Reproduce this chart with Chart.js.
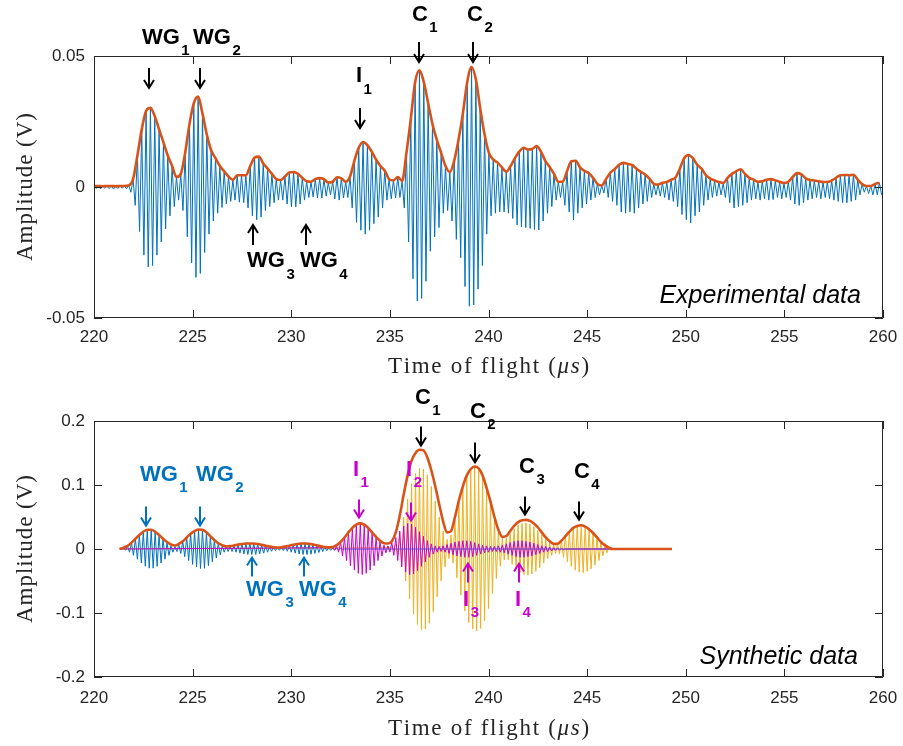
<!DOCTYPE html>
<html><head><meta charset="utf-8">
<script src="https://cdn.jsdelivr.net/npm/chart.js@4"></script>
<style>
html,body{margin:0;padding:0;background:#fff;}
#wrap{position:relative;width:903px;height:746px;overflow:hidden;}
#c1{position:absolute;left:0;top:0;}
#c2{position:absolute;left:0;top:380px;}
</style></head><body>
<div id="wrap"><canvas id="c1" width="903" height="380"></canvas><canvas id="c2" width="903" height="366"></canvas></div>
<script>
// ---------------- DATA ----------------
const xTicks = [220, 225, 230, 235, 240, 245, 250, 255, 260];
const expYTicks = [-0.05, 0, 0.05];
const synYTicks = [-0.2, -0.1, 0, 0.1, 0.2];

// Experimental: one carrier cycle every 0.22 us from 220 us
const expStart = 220, expStep = 0.22;
// positive peak / envelope value at each cycle
const expEnvelope = [
0.0004,0.0004,0.0003,0.0004,0.0004,0.0003,0.0004,0.0004,0.0006,0.003,
0.012,0.022,0.029,0.0302,0.027,0.022,0.017,0.012,0.008,0.0038,
0.005,0.013,0.024,0.032,0.0345,0.028,0.020,0.014,0.011,0.008,
0.006,0.004,0.0027,0.0045,0.0045,0.0045,0.008,0.0112,0.0116,0.009,
0.007,0.005,0.003,0.0027,0.004,0.0055,0.0057,0.005,0.0035,0.0022,
0.002,0.003,0.0034,0.003,0.0017,0.002,0.0037,0.0033,0.002,0.004,
0.010,0.015,0.0172,0.016,0.0135,0.0105,0.008,0.0062,0.003,0.0025,
0.0038,0.0023,0.013,0.026,0.040,0.0445,0.040,0.032,0.024,0.018,
0.013,0.008,0.0057,0.010,0.018,0.028,0.040,0.0458,0.041,0.030,
0.020,0.013,0.0105,0.0093,0.0075,0.0058,0.008,0.011,0.0135,0.015,
0.0143,0.0145,0.0156,0.0135,0.010,0.0076,0.005,0.002,0.002,0.006,
0.0098,0.010,0.0075,0.0062,0.0053,0.0035,0.0012,0.0006,0.003,0.0055,
0.0068,0.0085,0.0092,0.0088,0.0084,0.007,0.0058,0.0048,0.0032,0.0012,
0.0009,0.0016,0.0019,0.0028,0.0036,0.007,0.011,0.0122,0.011,0.0085,
0.007,0.0045,0.0032,0.0025,0.0019,0.0015,0.0035,0.005,0.006,0.0068,
0.005,0.0035,0.0028,0.002,0.0022,0.0028,0.003,0.0025,0.002,0.0015,
0.002,0.0038,0.0053,0.0048,0.0033,0.0027,0.0025,0.0022,0.0019,0.0019,
0.0025,0.0035,0.0045,0.0046,0.0045,0.0047,0.0028,0.0011,0.0004,0.0004,
0.0012,0.0016];
// negative trough half a cycle later
const expTrough = [
-0.0006,-0.0007,-0.0005,-0.0006,-0.0008,-0.0006,-0.0005,-0.0007,-0.002,-0.007,
-0.017,-0.026,-0.0305,-0.030,-0.026,-0.021,-0.016,-0.011,-0.0075,-0.005,
-0.009,-0.019,-0.029,-0.0345,-0.033,-0.025,-0.018,-0.013,-0.010,-0.0078,
-0.0065,-0.0055,-0.005,-0.0058,-0.006,-0.008,-0.011,-0.0125,-0.0115,-0.009,
-0.0075,-0.006,-0.005,-0.005,-0.0065,-0.0075,-0.0076,-0.0065,-0.005,-0.004,
-0.0038,-0.0042,-0.0042,-0.0035,-0.003,-0.0045,-0.005,-0.0042,-0.004,-0.008,
-0.0135,-0.0165,-0.018,-0.0165,-0.014,-0.0115,-0.008,-0.005,-0.0045,-0.0042,
-0.004,-0.008,-0.021,-0.035,-0.0435,-0.0425,-0.036,-0.0245,-0.019,-0.0155,
-0.010,-0.009,-0.013,-0.020,-0.027,-0.038,-0.0455,-0.045,-0.039,-0.030,
-0.018,-0.011,-0.010,-0.0095,-0.0095,-0.010,-0.012,-0.0145,-0.0153,-0.0155,
-0.0158,-0.0162,-0.0164,-0.013,-0.010,-0.0075,-0.005,-0.004,-0.007,-0.0095,
-0.0126,-0.010,-0.008,-0.0065,-0.005,-0.004,-0.003,-0.0023,-0.004,-0.0055,
-0.007,-0.0095,-0.010,-0.0095,-0.010,-0.008,-0.0065,-0.0055,-0.004,-0.003,
-0.0035,-0.004,-0.005,-0.0055,-0.0075,-0.0105,-0.0125,-0.0137,-0.011,-0.0095,
-0.007,-0.005,-0.004,-0.0035,-0.003,-0.004,-0.006,-0.008,-0.0075,-0.007,
-0.006,-0.005,-0.0045,-0.005,-0.0045,-0.005,-0.0048,-0.004,-0.0045,-0.004,
-0.005,-0.0065,-0.007,-0.006,-0.005,-0.0045,-0.004,-0.0045,-0.004,-0.0045,
-0.005,-0.0055,-0.006,-0.006,-0.0055,-0.005,-0.003,-0.002,-0.0025,-0.003,
-0.003,-0.003];

// Synthetic: one carrier cycle every 0.2 us
const synStart = 221.3, synStep = 0.2, synEnd = 249.3;
const synEnvelope = [
0,0.002,0.005,0.010,0.016,0.022,0.027,0.030,0.030,0.027,
0.022,0.016,0.011,0.007,0.0055,0.008,0.012,0.018,0.024,0.028,
0.0305,0.030,0.026,0.020,0.014,0.009,0.006,0.004,0.0045,0.0055,
0.0068,0.0078,0.0085,0.0086,0.0085,0.0078,0.0066,0.0052,0.0038,0.0028,
0.0022,0.0027,0.0037,0.0052,0.0066,0.0078,0.0085,0.0086,0.0082,0.0071,
0.0057,0.0042,0.003,0.0025,0.003,0.006,0.011,0.018,0.026,0.033,
0.038,0.040,0.038,0.033,0.026,0.019,0.013,0.009,0.0085,0.012,
0.026,0.052,0.085,0.115,0.138,0.150,0.155,0.154,0.143,0.123,
0.098,0.070,0.043,0.026,0.028,0.050,0.076,0.098,0.115,0.125,
0.129,0.126,0.115,0.096,0.074,0.050,0.030,0.019,0.020,0.028,
0.036,0.042,0.045,0.0455,0.044,0.040,0.034,0.026,0.018,0.012,
0.008,0.008,0.013,0.020,0.027,0.033,0.036,0.037,0.035,0.031,
0.025,0.018,0.011,0.006,0.002,0,0,0,0,0,
0,0,0,0,0,0,0,0,0,0,
0];
// WG (wave guide) component amplitude per cycle
const wgStart = 221.3;
const wgAmp = [
0,0.002,0.005,0.010,0.016,0.022,0.027,0.030,0.030,0.027,
0.022,0.016,0.010,0.005,0.004,0.007,0.012,0.018,0.024,0.028,
0.0305,0.030,0.026,0.020,0.014,0.009,0.005,0.004,0.004,0.005,
0.0065,0.0078,0.0085,0.0086,0.0085,0.0078,0.0065,0.005,0.0035,0.0025,
0.002,0.0025,0.0035,0.005,0.0065,0.0078,0.0085,0.0086,0.0082,0.007,
0.0055,0.004,0.0028,0.002,0.0015,0.001,0.0005,0];
// I (interface) component amplitude per cycle
const iStart = 232.1;
const iAmp = [
0.002,0.005,0.011,0.018,0.026,0.033,0.038,0.040,0.038,0.033,
0.026,0.018,0.011,0.006,0.005,0.010,0.018,0.028,0.036,0.040,
0.039,0.034,0.027,0.020,0.013,0.008,0.005,0.004,0.005,0.007,
0.009,0.011,0.012,0.013,0.013,0.012,0.010,0.008,0.006,0.005,
0.004,0.004,0.005,0.006,0.008,0.010,0.012,0.013,0.013,0.012,
0.011,0.009,0.007,0.005,0.004,0.003,0.002,0.0015,0.001,0];
// C component amplitude per cycle
const cStart = 235.1;
const cAmp = [
0.002,0.008,0.025,0.050,0.078,0.102,0.118,0.126,0.125,0.116,
0.098,0.075,0.050,0.028,0.015,0.022,0.045,0.072,0.097,0.115,
0.125,0.128,0.124,0.112,0.093,0.070,0.046,0.027,0.017,0.017,
0.024,0.031,0.037,0.040,0.041,0.039,0.035,0.029,0.022,0.015,
0.010,0.007,0.008,0.013,0.020,0.027,0.033,0.036,0.037,0.035,
0.031,0.025,0.018,0.011,0.006,0.002,0];

// ---------------- STYLE ----------------
const BLUE = '#0072BD', ORANGE = '#D95319', YELLOW = '#EDB120', MAG = '#CC00CC', AX = '#262626';
const SANS = '"Liberation Sans", Arial, Helvetica, sans-serif';
const SERIF = '"Liberation Serif", "Times New Roman", serif';

function expSignal() {
  const pts = [];
  expEnvelope.forEach((v, k) => {
    const t = expStart + k * expStep;
    pts.push({x: t, y: v});
    pts.push({x: t + expStep / 2, y: expTrough[k]});
  });
  return pts;
}
function envPts(start, step, arr) { return arr.map((v, k) => ({x: start + k * step, y: v})); }
function burst(start, amps) {
  const pts = [];
  if (start > synStart) pts.push({x: synStart, y: 0});
  amps.forEach((a, k) => {
    const t = start + k * synStep;
    pts.push({x: t, y: a});
    pts.push({x: t + synStep / 2, y: -a});
  });
  pts.push({x: synEnd, y: 0});
  return pts;
}

const expNotes = {
  labels: [
    {x: 222.43, y: 0.0569, t: 'WG', s: '1', c: '#000'},
    {x: 225.02, y: 0.0569, t: 'WG', s: '2', c: '#000'},
    {x: 233.28, y: 0.0422, t: 'I', s: '1', c: '#000'},
    {x: 236.12, y: 0.0658, t: 'C', s: '1', c: '#000'},
    {x: 238.91, y: 0.0658, t: 'C', s: '2', c: '#000'},
    {x: 227.76, y: -0.0284, t: 'WG', s: '3', c: '#000'},
    {x: 230.44, y: -0.0284, t: 'WG', s: '4', c: '#000'}
  ],
  arrows: [
    {x: 222.79, from: 0.0454, to: 0.0378, c: '#000'},
    {x: 225.37, from: 0.0454, to: 0.0378, c: '#000'},
    {x: 233.49, from: 0.0302, to: 0.0225, c: '#000'},
    {x: 236.48, from: 0.0553, to: 0.0477, c: '#000'},
    {x: 239.21, from: 0.0553, to: 0.0477, c: '#000'},
    {x: 228.06, from: -0.0221, to: -0.0145, c: '#000'},
    {x: 230.75, from: -0.0221, to: -0.0145, c: '#000'}
  ],
  caption: {x: 258.88, y: -0.0416, t: 'Experimental data'},
  xTitleOffset: 49
};
const synNotes = {
  labels: [
    {x: 222.33, y: 0.1156, t: 'WG', s: '1', c: BLUE},
    {x: 225.17, y: 0.1156, t: 'WG', s: '2', c: BLUE},
    {x: 227.71, y: -0.0633, t: 'WG', s: '3', c: BLUE},
    {x: 230.39, y: -0.0633, t: 'WG', s: '4', c: BLUE},
    {x: 233.13, y: 0.124, t: 'I', s: '1', c: MAG},
    {x: 235.82, y: 0.124, t: 'I', s: '2', c: MAG},
    {x: 238.71, y: -0.0789, t: 'I', s: '3', c: MAG},
    {x: 241.34, y: -0.0789, t: 'I', s: '4', c: MAG},
    {x: 236.27, y: 0.2367, t: 'C', s: '1', c: '#000'},
    {x: 239.06, y: 0.2148, t: 'C', s: '2', c: '#000'},
    {x: 241.55, y: 0.1289, t: 'C', s: '3', c: '#000'},
    {x: 244.33, y: 0.121, t: 'C', s: '4', c: '#000'}
  ],
  arrows: [
    {x: 222.64, from: 0.0664, to: 0.0367, c: BLUE},
    {x: 225.37, from: 0.0664, to: 0.0367, c: BLUE},
    {x: 228.01, from: -0.043, to: -0.0133, c: BLUE},
    {x: 230.65, from: -0.043, to: -0.0133, c: BLUE},
    {x: 233.43, from: 0.0773, to: 0.0492, c: MAG},
    {x: 236.07, from: 0.0727, to: 0.0445, c: MAG},
    {x: 238.96, from: -0.0523, to: -0.0227, c: MAG},
    {x: 241.55, from: -0.0523, to: -0.0227, c: MAG},
    {x: 236.58, from: 0.1914, to: 0.1617, c: '#000'},
    {x: 239.32, from: 0.1664, to: 0.1352, c: '#000'},
    {x: 241.85, from: 0.082, to: 0.0539, c: '#000'},
    {x: 244.59, from: 0.0742, to: 0.0461, c: '#000'}
  ],
  caption: {x: 258.73, y: -0.1695, t: 'Synthetic data'},
  xTitleOffset: 52
};

function spacedWidth(ctx, s, sp) {
  let w = 0;
  for (const ch of s) w += ctx.measureText(ch).width + sp;
  return w - sp;
}
function drawSpaced(ctx, s, x, y, sp) {
  for (const ch of s) { ctx.fillText(ch, x, y); x += ctx.measureText(ch).width + sp; }
  return x;
}

const framePlugin = {
  id: 'frame',
  afterDatasetsDraw(chart) {
    const ctx = chart.ctx, a = chart.chartArea;
    const xs = chart.scales.x, ys = chart.scales.y;
    ctx.save();
    ctx.strokeStyle = AX; ctx.lineWidth = 1;
    ctx.beginPath();
    ctx.rect(a.left + 0.5, a.top + 0.5, a.right - a.left - 1, a.bottom - a.top - 1);
    ctx.stroke();
    const L = 8;
    ctx.beginPath();
    xs.ticks.forEach(t => {
      const px = Math.round(xs.getPixelForValue(t.value)) + 0.5;
      ctx.moveTo(px, a.bottom); ctx.lineTo(px, a.bottom - L);
      ctx.moveTo(px, a.top); ctx.lineTo(px, a.top + L);
    });
    ys.ticks.forEach(t => {
      const py = Math.round(ys.getPixelForValue(t.value)) + 0.5;
      ctx.moveTo(a.left, py); ctx.lineTo(a.left + L, py);
      ctx.moveTo(a.right, py); ctx.lineTo(a.right - L, py);
    });
    ctx.stroke();
    ctx.restore();
  },
  afterDraw(chart, args, opts) {
    const ctx = chart.ctx, a = chart.chartArea;
    const xs = chart.scales.x, ys = chart.scales.y;
    const notes = opts.notes;
    ctx.save();
    // axis titles
    ctx.fillStyle = AX;
    ctx.textBaseline = 'middle';
    ctx.textAlign = 'left';
    ctx.font = '23px ' + SERIF;
    ctx.save();
    ctx.translate(26, (a.top + a.bottom) / 2);
    ctx.rotate(-Math.PI / 2);
    const SPA = 1;
    const wa = spacedWidth(ctx, 'Amplitude (V)', SPA);
    drawSpaced(ctx, 'Amplitude (V)', -wa / 2, 0, SPA);
    ctx.restore();
    const SP = 1.7;
    const F = '23px ' + SERIF, FI = 'italic 23px ' + SERIF;
    const p1 = 'Time of flight (', p2 = '\u03bcs', p3 = ')';
    ctx.font = F; const w1 = spacedWidth(ctx, p1, SP) + SP; const w3 = spacedWidth(ctx, p3, SP);
    ctx.font = FI; const w2 = spacedWidth(ctx, p2, SP) + SP;
    let x0 = (a.left + a.right) / 2 - (w1 + w2 + w3) / 2;
    const ty = a.bottom + notes.xTitleOffset;
    ctx.font = F; drawSpaced(ctx, p1, x0, ty, SP);
    ctx.font = FI; drawSpaced(ctx, p2, x0 + w1, ty, SP);
    ctx.font = F; drawSpaced(ctx, p3, x0 + w1 + w2, ty, SP);
    // labels
    notes.labels.forEach(l => {
      const px = xs.getPixelForValue(l.x), py = ys.getPixelForValue(l.y);
      ctx.fillStyle = l.c;
      ctx.font = 'bold 22px ' + SANS;
      ctx.fillText(l.t, px, py);
      const w = ctx.measureText(l.t).width;
      ctx.font = 'bold 15px ' + SANS;
      ctx.fillText(l.s, px + w + 1.5, py + 13);
    });
    // arrows
    notes.arrows.forEach(r => {
      const px = Math.round(xs.getPixelForValue(r.x));
      const y0 = ys.getPixelForValue(r.from), y1 = ys.getPixelForValue(r.to);
      const dir = y1 > y0 ? 1 : -1;
      ctx.strokeStyle = r.c; ctx.lineWidth = 2;
      ctx.beginPath();
      ctx.moveTo(px, y0); ctx.lineTo(px, y1);
      ctx.moveTo(px - 5, y1 - dir * 8); ctx.lineTo(px, y1); ctx.lineTo(px + 5, y1 - dir * 8);
      ctx.stroke();
    });
    // caption
    ctx.fillStyle = '#000';
    ctx.font = 'italic 25px ' + SANS;
    ctx.textAlign = 'right';
    ctx.fillText(notes.caption.t, xs.getPixelForValue(notes.caption.x), ys.getPixelForValue(notes.caption.y));
    ctx.restore();
  }
};

function makeChart(id, datasets, yMin, yMax, yTicks, notes, canvasH, plotTop, plotBottom, xPad) {
  return new Chart(document.getElementById(id), {
    type: 'line',
    data: {datasets},
    options: {
      responsive: false, animation: false, devicePixelRatio: 1,
      layout: {padding: {top: plotTop, right: 20, left: 0, bottom: 0}},
      plugins: {legend: {display: false}, tooltip: {enabled: false}, frame: {notes}},
      elements: {point: {radius: 0}},
      scales: {
        x: {
          type: 'linear', min: 220, max: 260,
          afterBuildTicks: s => { s.ticks = xTicks.map(v => ({value: v})); },
          afterFit: s => { s.height = canvasH - plotBottom; s.paddingLeft = 0; s.paddingRight = 0; },
          grid: {display: false, drawTicks: false}, border: {display: false},
          ticks: {color: AX, font: {family: SANS, size: 17}, padding: xPad, maxRotation: 0, autoSkip: false, callback: v => String(v)}
        },
        y: {
          type: 'linear', min: yMin, max: yMax,
          afterBuildTicks: s => { s.ticks = yTicks.map(v => ({value: v})); },
          afterFit: s => { s.width = 94; s.paddingTop = 0; s.paddingBottom = 0; },
          grid: {display: false, drawTicks: false}, border: {display: false},
          ticks: {color: AX, font: {family: SANS, size: 17}, padding: 9, autoSkip: false, callback: v => String(v)}
        }
      }
    },
    plugins: [framePlugin]
  });
}

makeChart('c1', [
  {data: envPts(expStart, expStep, expEnvelope), borderColor: ORANGE, borderWidth: 2.6, cubicInterpolationMode: 'monotone', order: 0},
  {data: expSignal(), borderColor: BLUE, borderWidth: 1, tension: 0, order: 1}
], -0.05, 0.05, expYTicks, expNotes, 380, 56, 318, 9);

makeChart('c2', [
  {data: envPts(synStart, synStep, synEnvelope), borderColor: ORANGE, borderWidth: 2.6, cubicInterpolationMode: 'monotone', order: 0},
  {data: burst(iStart, iAmp), borderColor: MAG, borderWidth: 1, tension: 0, order: 1},
  {data: burst(wgStart, wgAmp), borderColor: BLUE, borderWidth: 1, tension: 0, order: 2},
  {data: burst(cStart, cAmp), borderColor: YELLOW, borderWidth: 1, tension: 0, order: 3}
], -0.2, 0.2, synYTicks, synNotes, 366, 41, 297, 11);
</script>
</body></html>
